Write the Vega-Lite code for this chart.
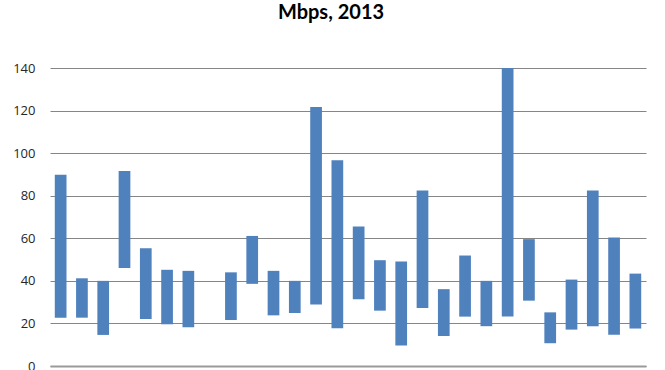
{
  "$schema": "https://vega.github.io/schema/vega-lite/v6.json",
  "width": 596,
  "height": 298,
  "autosize": {"type": "none"},
  "padding": {"left": 50, "top": 68, "right": 19, "bottom": 4},
  "background": "white",
  "title": {
    "text": "Mbps, 2013",
    "font": "Lato",
    "fontSize": 20,
    "fontWeight": "bold",
    "color": "#000000",
    "anchor": "middle",
    "baseline": "alphabetic",
    "offset": 23,
    "dx": -17
  },
  "config": {
    "view": {"stroke": null},
    "axis": {"labelFont": "Open Sans", "labelFontSize": 13, "labelColor": "#262626"}
  },
  "data": {
    "values": [
      {"slot": 1, "low": 22.7, "high": 89.8},
      {"slot": 2, "low": 22.7, "high": 41.2},
      {"slot": 3, "low": 14.6, "high": 40.0},
      {"slot": 4, "low": 46.0, "high": 91.6},
      {"slot": 5, "low": 22.1, "high": 55.3},
      {"slot": 6, "low": 19.6, "high": 45.2},
      {"slot": 7, "low": 18.2, "high": 44.7},
      {"slot": 9, "low": 21.6, "high": 44.0},
      {"slot": 10, "low": 38.6, "high": 61.1},
      {"slot": 11, "low": 23.8, "high": 44.7},
      {"slot": 12, "low": 24.9, "high": 40.0},
      {"slot": 13, "low": 28.9, "high": 121.7},
      {"slot": 14, "low": 17.7, "high": 96.7},
      {"slot": 15, "low": 31.4, "high": 65.5},
      {"slot": 16, "low": 26.0, "high": 49.7},
      {"slot": 17, "low": 9.6, "high": 49.1},
      {"slot": 18, "low": 27.3, "high": 82.5},
      {"slot": 19, "low": 14.1, "high": 36.1},
      {"slot": 20, "low": 23.2, "high": 51.9},
      {"slot": 21, "low": 18.7, "high": 40.0},
      {"slot": 22, "low": 23.2, "high": 140.0},
      {"slot": 23, "low": 30.7, "high": 59.6},
      {"slot": 24, "low": 10.7, "high": 25.2},
      {"slot": 25, "low": 17.1, "high": 40.6},
      {"slot": 26, "low": 18.7, "high": 82.5},
      {"slot": 27, "low": 14.7, "high": 60.4},
      {"slot": 28, "low": 17.6, "high": 43.4}
    ]
  },
  "mark": {"type": "bar", "color": "#4F81BD"},
  "encoding": {
    "x": {
      "field": "slot",
      "type": "ordinal",
      "scale": {
        "domain": [1,2,3,4,5,6,7,8,9,10,11,12,13,14,15,16,17,18,19,20,21,22,23,24,25,26,27,28],
        "paddingInner": 0.45,
        "paddingOuter": 0.225
      },
      "axis": {
        "title": null,
        "labels": false,
        "ticks": false,
        "domainColor": "#9a9a9a",
        "domainWidth": 2
      }
    },
    "y": {
      "field": "low",
      "type": "quantitative",
      "scale": {"domain": [0, 140], "nice": false},
      "axis": {
        "title": null,
        "values": [0, 20, 40, 60, 80, 100, 120, 140],
        "ticks": false,
        "domain": false,
        "gridColor": "#868686",
        "gridWidth": 1,
        "labelPadding": 15
      }
    },
    "y2": {"field": "high"}
  }
}
